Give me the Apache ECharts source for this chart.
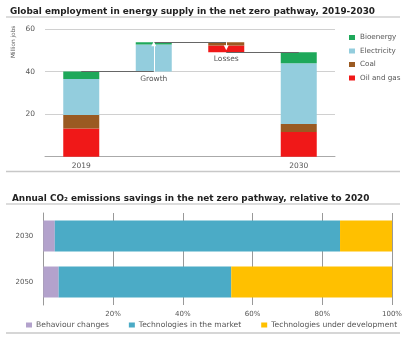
<!DOCTYPE html>
<html><head><meta charset="utf-8">
<script src="https://cdn.jsdelivr.net/npm/echarts@6/dist/echarts.min.js"></script>
<style>html,body{margin:0;padding:0;background:#fff}#c{width:405px;height:354px}</style>
</head><body><div id="c"></div>
<script>
// ---- Top chart data (million jobs) ----
const categories = ['2019', 'Growth', 'Losses', '2030'];
const kinds = ['total', 'up', 'down', 'total'];
const oilGas = [13.3, 0, 3.2, 11.6];
const coal = [6.3, 0, 1.5, 3.8];
const electricity = [16.9, 12.7, 0, 28.5];
const bioenergy = [3.5, 1.1, 0, 5.2];
const yTicks = [0, 20, 40, 60];

// ---- Bottom chart data (% of savings) ----
const years = ['2030', '2050'];
const behaviour = [3.3, 4.4];
const market = [81.8, 49.5];
const development = [14.9, 46.1];
const xTicks = [0, 20, 40, 60, 80, 100];

const FONT = 'DejaVu Sans';
const colors = {oil: '#f01818', coal: '#9a5a22', elec: '#93cddd', bio: '#1ea85a',
  beh: '#b3a2cc', mkt: '#4babc6', dev: '#ffc000'};

// waterfall base computed from data
const sums = categories.map((c, i) => oilGas[i] + coal[i] + electricity[i] + bioenergy[i]);
let running = 0;
const base = categories.map((c, i) => {
  if (kinds[i] === 'total') { running = sums[i]; return 0; }
  if (kinds[i] === 'up') { const b = running; running += sums[i]; return b; }
  running -= sums[i]; return running;
});
const tops = categories.map((c, i) => base[i] + sums[i]);

const chart = echarts.init(document.getElementById('c'), null, {renderer: 'canvas'});
const lbl = {fontFamily: FONT, fontSize: 7.5, color: '#555'};

const option = {
  animation: false,
  textStyle: {fontFamily: FONT},
  title: [
    {text: 'Global employment in energy supply in the net zero pathway, 2019-2030', left: 5, top: 2,
     textStyle: {fontFamily: FONT, fontSize: 8.9, fontWeight: 'bold', color: '#222'}},
    {text: 'Annual CO\u2082 emissions savings in the net zero pathway, relative to 2020', left: 7, top: 189,
     textStyle: {fontFamily: FONT, fontSize: 8.9, fontWeight: 'bold', color: '#222'}}
  ],
  legend: [
    {data: ['Bioenergy', 'Electricity', 'Coal', 'Oil and gas'], orient: 'vertical', left: 344, top: 29,
     itemWidth: 6, itemHeight: 5, itemGap: 6.5, textStyle: {...lbl, fontSize: 7.2, padding: [0, 0, 0, 0]}, icon: 'rect'},
    {data: ['Behaviour changes', 'Technologies in the market', 'Technologies under development'],
     left: 26, top: 321, width: 378, padding: 0,
     itemWidth: 6, itemHeight: 5, itemGap: 20, textStyle: {...lbl, fontSize: 7.6, padding: [0, 0, 0, -1]}, icon: 'rect'}
  ],
  grid: [
    {left: 45, right: 70, top: 29, height: 127.7},
    {left: 43.3, right: 9, top: 213, height: 92}
  ],
  xAxis: [
    {gridIndex: 0, type: 'category', data: categories,
     axisLine: {lineStyle: {color: '#aaa'}}, axisTick: {show: false},
     axisLabel: {...lbl, margin: 5, formatter: v => (kinds[categories.indexOf(v)] === 'total' ? v : '')}},
    {gridIndex: 1, type: 'value', min: xTicks[0], max: xTicks[xTicks.length - 1], interval: 20,
     axisLine: {show: false}, axisTick: {show: false},
     splitLine: {show: true, lineStyle: {color: '#999', width: 1}},
     axisLabel: {...lbl, fontSize: 7, margin: 6, showMinLabel: false, formatter: '{value}%'}}
  ],
  yAxis: [
    {gridIndex: 0, type: 'value', min: yTicks[0], max: yTicks[yTicks.length - 1], interval: 20,
     axisLine: {show: false}, axisTick: {show: false},
     splitLine: {lineStyle: {color: '#d0d0d0'}},
     axisLabel: {...lbl, margin: 10, showMinLabel: false}},
    {gridIndex: 1, type: 'category', data: years, inverse: true,
     axisLine: {lineStyle: {color: '#999'}}, axisTick: {show: false},
     axisLabel: {...lbl, fontSize: 7, margin: 10}}
  ],
  graphic: [
    {type: 'text', x: 10, y: 58, rotation: Math.PI / 2,
     style: {text: 'Million jobs', fontFamily: FONT, fontSize: 5.8, fill: '#555'}},
    {type: 'line', shape: {x1: 6, y1: 17, x2: 400, y2: 17}, style: {stroke: '#d0d0d0', lineWidth: 1.5}},
    {type: 'line', shape: {x1: 6, y1: 171.5, x2: 400, y2: 171.5}, style: {stroke: '#c8c8c8', lineWidth: 1.5}},
    {type: 'line', shape: {x1: 6, y1: 204, x2: 400, y2: 204}, style: {stroke: '#d0d0d0', lineWidth: 1.5}},
    {type: 'line', shape: {x1: 6, y1: 333, x2: 400, y2: 333}, style: {stroke: '#c8c8c8', lineWidth: 1.5}}
  ],
  series: [
    {name: 'base', type: 'bar', stack: 'w', xAxisIndex: 0, yAxisIndex: 0, barWidth: 36, z: 1,
     data: base, itemStyle: {color: 'transparent'}, silent: true,
     markLine: {silent: true, symbol: 'none', label: {show: false},
       lineStyle: {color: '#666', type: 'solid', width: 1},
       data: [
         [{coord: [0, tops[0]]}, {coord: [1, base[1]]}],
         [{coord: [1, tops[1]]}, {coord: [2, tops[2]]}],
         [{coord: [2, base[2]]}, {coord: [3, tops[3]]}]
       ]}},
    {name: 'Oil and gas', type: 'bar', stack: 'w', xAxisIndex: 0, yAxisIndex: 0, barWidth: 36, z: 3,
     itemStyle: {color: colors.oil},
     data: oilGas.map((v, i) => kinds[i] === 'down'
       ? {value: v, label: {show: true, position: 'bottom', distance: 3, formatter: categories[i], ...lbl}}
       : v),
     markLine: {silent: true, symbol: ['none', 'triangle'], symbolSize: [5, 5], label: {show: false},
       lineStyle: {color: '#fff', type: 'solid', width: 1},
       data: [[{coord: [2, tops[2]]}, {coord: [2, tops[2] - 2.6]}]]}},
    {name: 'Coal', type: 'bar', stack: 'w', xAxisIndex: 0, yAxisIndex: 0, barWidth: 36, z: 3,
     itemStyle: {color: colors.coal}, data: coal},
    {name: 'Electricity', type: 'bar', stack: 'w', xAxisIndex: 0, yAxisIndex: 0, barWidth: 36, z: 3,
     itemStyle: {color: colors.elec},
     data: electricity.map((v, i) => kinds[i] === 'up'
       ? {value: v, label: {show: true, position: 'bottom', distance: 3, formatter: categories[i], ...lbl}}
       : v),
     markLine: {silent: true, symbol: ['none', 'triangle'], symbolSize: [5, 5], label: {show: false},
       lineStyle: {color: '#fff', type: 'solid', width: 1},
       data: [[{coord: [1, base[1]]}, {coord: [1, tops[1] - 0.7]}]]}},
    {name: 'Bioenergy', type: 'bar', stack: 'w', xAxisIndex: 0, yAxisIndex: 0, barWidth: 36, z: 3,
     itemStyle: {color: colors.bio}, data: bioenergy},

    {name: 'Behaviour changes', type: 'bar', stack: 's', xAxisIndex: 1, yAxisIndex: 1, barWidth: 31,
     itemStyle: {color: colors.beh}, data: behaviour},
    {name: 'Technologies in the market', type: 'bar', stack: 's', xAxisIndex: 1, yAxisIndex: 1, barWidth: 31,
     itemStyle: {color: colors.mkt}, data: market},
    {name: 'Technologies under development', type: 'bar', stack: 's', xAxisIndex: 1, yAxisIndex: 1, barWidth: 31,
     itemStyle: {color: colors.dev}, data: development}
  ]
};
chart.setOption(option);
</script></body></html>
